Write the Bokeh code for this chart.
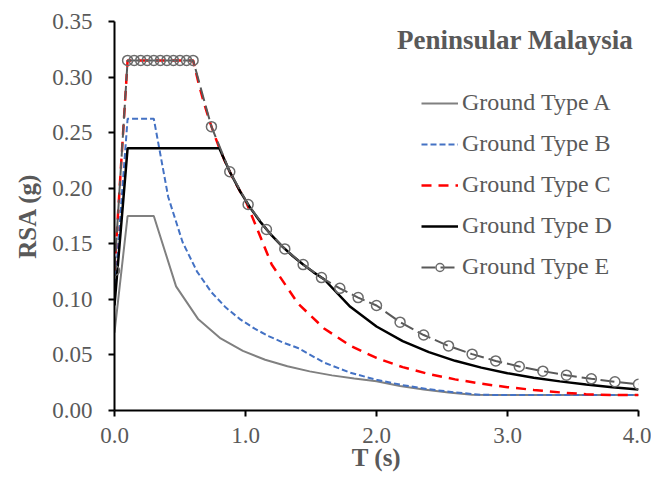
from bokeh.plotting import figure
from bokeh.models import Range1d, FixedTicker, PrintfTickFormatter, Legend, LegendItem, Label
from bokeh.embed import file_html
from bokeh.resources import INLINE

# ---- data ----
T_A = [0, 0.1, 0.3, 0.47, 0.64, 0.81, 0.98, 1.15, 1.32, 1.49, 1.66, 1.83, 2.0,
       2.18, 2.36, 2.55, 2.73, 2.91, 3.09, 3.27, 3.45, 3.64, 3.82, 4.0]
S_A = [0.07, 0.175, 0.175, 0.1117, 0.0820, 0.0648, 0.0536, 0.0457, 0.0398, 0.0352, 0.0316, 0.0287, 0.02625,
       0.0221, 0.0189, 0.0161, 0.0141, 0.014, 0.014, 0.014, 0.014, 0.014, 0.014, 0.014]

T_B = [0, 0.1, 0.3, 0.41, 0.52, 0.63, 0.74, 0.85, 0.96, 1.07, 1.18, 1.29, 1.4,
       1.6, 1.8, 2.0, 2.2, 2.4, 2.6, 2.8, 3.0, 3.2, 3.4, 3.6, 3.8, 4.0]
S_B = [0.105, 0.2625, 0.2625, 0.1921, 0.1514, 0.1250, 0.1064, 0.0926, 0.0820, 0.0736, 0.0667, 0.0610, 0.05625,
       0.0431, 0.0340, 0.0276, 0.0228, 0.0191, 0.0163, 0.0141, 0.014, 0.014, 0.014, 0.014, 0.014, 0.014]

T_C = [0, 0.1, 0.6, 0.64, 0.68, 0.72, 0.76, 0.8, 0.84, 0.88, 0.92, 0.96, 1.0,
       1.2, 1.4, 1.6, 1.8, 2.0, 2.2, 2.4, 2.6, 2.8, 3.0, 3.2, 3.4, 3.6, 3.8, 4.0]
S_C = [0.126, 0.315, 0.315, 0.2953, 0.2779, 0.2625, 0.2487, 0.2363, 0.2250, 0.2148, 0.2054, 0.1969, 0.189,
       0.1313, 0.0964, 0.0738, 0.0583, 0.0473, 0.0390, 0.0328, 0.0280, 0.0241, 0.0210, 0.0185, 0.0163, 0.0146, 0.014, 0.014]

T_D = [0, 0.1, 0.8, 0.88, 0.96, 1.04, 1.12, 1.2, 1.28, 1.36, 1.44, 1.52, 1.6,
       1.8, 2.0, 2.2, 2.4, 2.6, 2.8, 3.0, 3.2, 3.4, 3.6, 3.8, 4.0]
S_D = [0.0945, 0.236, 0.236, 0.2148, 0.1969, 0.1817, 0.1688, 0.1575, 0.1477, 0.1390, 0.1313, 0.1243, 0.1181,
       0.0933, 0.0756, 0.0625, 0.0525, 0.0447, 0.0386, 0.0336, 0.0295, 0.0262, 0.0233, 0.0209, 0.0189]

T_E = [0, 0.1, 0.15, 0.2, 0.25, 0.3, 0.35, 0.4, 0.45, 0.5, 0.55, 0.6,
       0.74, 0.88, 1.02, 1.16, 1.30, 1.44, 1.58, 1.72, 1.86, 2.0,
       2.18, 2.36, 2.55, 2.73, 2.91, 3.09, 3.27, 3.45, 3.64, 3.82, 4.0]
S_E = [0.126, 0.315, 0.315, 0.315, 0.315, 0.315, 0.315, 0.315, 0.315, 0.315, 0.315, 0.315,
       0.2554, 0.2148, 0.1853, 0.1629, 0.1454, 0.1313, 0.1196, 0.1099, 0.1016, 0.0945,
       0.0795, 0.0679, 0.0581, 0.0507, 0.0446, 0.0396, 0.0354, 0.0318, 0.0285, 0.0259, 0.0236]

X_TICKS = [0, 1, 2, 3, 4]
Y_TICKS = [0, 0.05, 0.10, 0.15, 0.20, 0.25, 0.30, 0.35]
LABELS = ["Ground Type A", "Ground Type B", "Ground Type C", "Ground Type D", "Ground Type E"]
TITLE = "Peninsular Malaysia"
X_LABEL = "T (s)"
Y_LABEL = "RSA (g)"

FONT = "Liberation Serif"
TXT = "#595959"

p = figure(width=651, height=473, output_backend="svg", toolbar_location=None,
           x_range=Range1d(0, 4), y_range=Range1d(0, 0.35),
           min_border_left=114, min_border_right=13, min_border_top=21, min_border_bottom=63)
p.outline_line_color = None
p.xgrid.visible = False
p.ygrid.visible = False
p.background_fill_color = "white"
p.border_fill_color = "white"

for ax in (p.xaxis[0], p.yaxis[0]):
    ax.axis_line_color = "black"
    ax.axis_line_width = 2
    ax.major_tick_line_color = "black"
    ax.major_tick_line_width = 2
    ax.major_tick_out = 6
    ax.major_tick_in = 0
    ax.minor_tick_line_color = None
    ax.major_label_text_font = FONT
    ax.major_label_text_font_size = "23px"
    ax.major_label_text_color = TXT
    ax.axis_label_text_font = FONT
    ax.axis_label_text_font_size = "25px"
    ax.axis_label_text_font_style = "bold"
    ax.axis_label_text_color = TXT

p.xaxis.ticker = FixedTicker(ticks=X_TICKS)
p.xaxis.formatter = PrintfTickFormatter(format="%.1f")
p.yaxis.ticker = FixedTicker(ticks=Y_TICKS)
p.yaxis.formatter = PrintfTickFormatter(format="%.2f")
p.yaxis.axis_label = Y_LABEL
p.xaxis.axis_label = X_LABEL
p.xaxis.major_label_standoff = 11
p.xaxis.axis_label_standoff = -2
p.yaxis.major_label_standoff = 16
p.yaxis.axis_label_standoff = 8

rA = p.line(T_A, S_A, line_color="#808080", line_width=2)
rB = p.line(T_B, S_B, line_color="#4472C4", line_width=2, line_dash="6 3")
rC = p.line(T_C, S_C, line_color="#FF0000", line_width=2.5, line_dash="10 7")
rD = p.line(T_D, S_D, line_color="black", line_width=2.5)
rE = p.line(T_E, S_E, line_color="#595959", line_width=2, line_dash="14 5")
rEm = p.scatter(T_E, S_E, marker="circle", size=10, line_color="#6b6b6b", line_width=1.5, fill_color=None)

legend = Legend(items=[
    LegendItem(label=LABELS[0], renderers=[rA]),
    LegendItem(label=LABELS[1], renderers=[rB]),
    LegendItem(label=LABELS[2], renderers=[rC]),
    LegendItem(label=LABELS[3], renderers=[rD]),
    LegendItem(label=LABELS[4], renderers=[rE, rEm]),
], location=(307, 130))
legend.border_line_color = None
legend.background_fill_alpha = 0
legend.padding = 0
legend.margin = 0
legend.spacing = 14
legend.glyph_width = 37
legend.glyph_height = 20
legend.label_standoff = 4
legend.label_text_font = FONT
legend.label_text_font_size = "24px"
legend.label_text_color = TXT
p.add_layout(legend)

p.add_layout(Label(x=3.96, y=0.333, text=TITLE, text_font=FONT, text_font_size="27px",
                   text_font_style="bold", text_color=TXT, text_align="right", text_baseline="middle"))

open("out.html", "w").write(file_html(p, INLINE))
